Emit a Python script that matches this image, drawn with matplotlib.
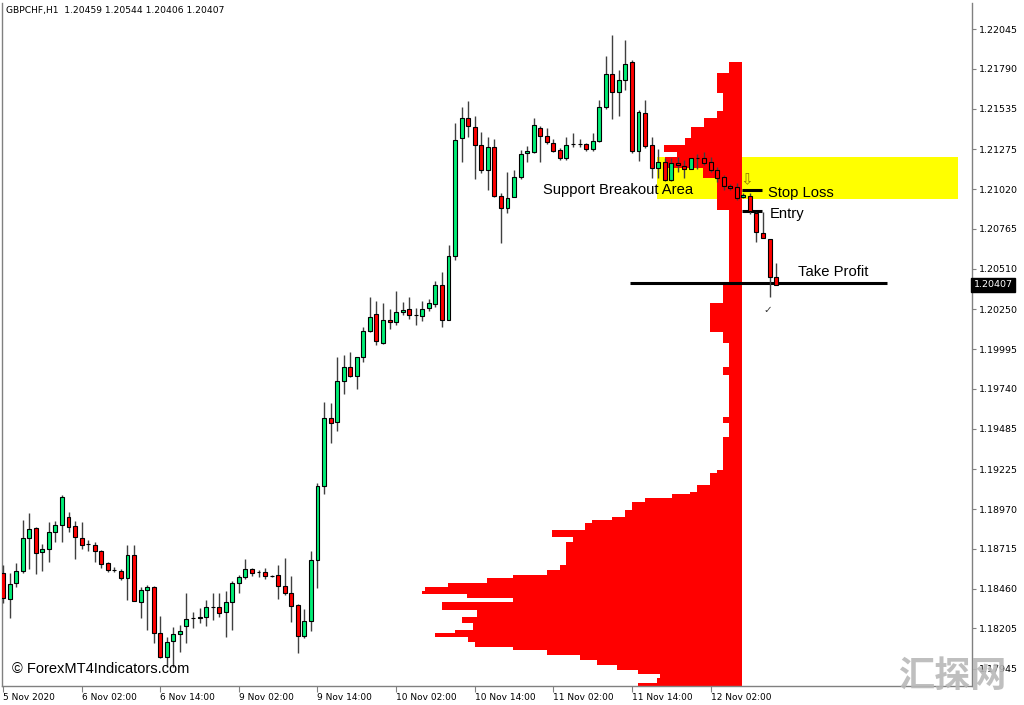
import matplotlib
matplotlib.use('Agg')
import matplotlib.pyplot as plt
import matplotlib.transforms as mtrans
from matplotlib.patches import Rectangle

# GBPCHF H1 candles, 5 Nov 14:00 .. 12 Nov 12:00
opens = [1.18560, 1.18394, 1.18496, 1.18573, 1.18785, 1.18849, 1.18695, 1.18714, 1.18823, 1.18868,
         1.18919, 1.18861, 1.18785, 1.18746, 1.18740, 1.18701, 1.18624, 1.18580, 1.18573, 1.18528,
         1.18676, 1.18375, 1.18452, 1.18471, 1.18176, 1.18022, 1.18125, 1.18170, 1.18221, 1.18272,
         1.18272, 1.18279, 1.18343, 1.18343, 1.18311, 1.18375, 1.18496, 1.18535, 1.18586, 1.18567,
         1.18567, 1.18541, 1.18548, 1.18477, 1.18432, 1.18355, 1.18157, 1.18253, 1.18644, 1.19118,
         1.19553, 1.19528, 1.19790, 1.19880, 1.19822, 1.19944, 1.20111, 1.20220, 1.20034, 1.20181,
         1.20168, 1.20232, 1.20252, 1.20213, 1.20207, 1.20258, 1.20284, 1.20405, 1.20181, 1.20591,
         1.21347, 1.21475, 1.21417, 1.21302, 1.21142, 1.21289, 1.20975, 1.20899, 1.20969, 1.21097,
         1.21251, 1.21257, 1.21411, 1.21360, 1.21315, 1.21270, 1.21219, 1.21309, 1.21309, 1.21309,
         1.21276, 1.21328, 1.21546, 1.21757, 1.21642, 1.21719, 1.21834, 1.21264, 1.21507, 1.21302,
         1.21155, 1.21193, 1.21078, 1.21187, 1.21168, 1.21148, 1.21216, 1.21219, 1.21193, 1.21142,
         1.21097, 1.21040, 1.21033, 1.20969, 1.20975, 1.20867, 1.20738, 1.20700, 1.20459]
highs = [1.18612, 1.18560, 1.18624, 1.18900, 1.18945, 1.18855, 1.18746, 1.18887, 1.18894, 1.19060,
         1.18951, 1.18894, 1.18887, 1.18772, 1.18759, 1.18708, 1.18631, 1.18599, 1.18586, 1.18740,
         1.18740, 1.18471, 1.18484, 1.18474, 1.18285, 1.18150, 1.18214, 1.18227, 1.18432, 1.18311,
         1.18336, 1.18387, 1.18432, 1.18432, 1.18445, 1.18509, 1.18548, 1.18650, 1.18592, 1.18580,
         1.18592, 1.18548, 1.18612, 1.18656, 1.18541, 1.18362, 1.18330, 1.18701, 1.19137, 1.19656,
         1.19649, 1.19944, 1.19957, 1.19976, 1.19946, 1.20136, 1.20328, 1.20303, 1.20290, 1.20252,
         1.20367, 1.20296, 1.20328, 1.20258, 1.20303, 1.20316, 1.20431, 1.20489, 1.20662, 1.21443,
         1.21546, 1.21584, 1.21488, 1.21385, 1.21353, 1.21341, 1.20995, 1.21129, 1.21142, 1.21270,
         1.21296, 1.21475, 1.21424, 1.21411, 1.21341, 1.21283, 1.21353, 1.21379, 1.21341, 1.21315,
         1.21379, 1.21590, 1.21872, 1.22007, 1.21783, 1.21975, 1.21847, 1.21526, 1.21590, 1.21353,
         1.21276, 1.21219, 1.21219, 1.21225, 1.21206, 1.21221, 1.21245, 1.21257, 1.21225, 1.21161,
         1.21110, 1.21052, 1.21059, 1.20995, 1.20995, 1.20873, 1.20873, 1.20703, 1.20544]
lows = [1.18368, 1.18272, 1.18471, 1.18560, 1.18586, 1.18554, 1.18573, 1.18631, 1.18759, 1.18759,
        1.18823, 1.18650, 1.18714, 1.18701, 1.18631, 1.18592, 1.18567, 1.18567, 1.18516, 1.18387,
        1.18378, 1.18272, 1.18195, 1.18112, 1.18016, 1.17958, 1.17958, 1.18054, 1.18112, 1.18208,
        1.18240, 1.18221, 1.18259, 1.18279, 1.18150, 1.18195, 1.18432, 1.18522, 1.18541, 1.18535,
        1.18522, 1.18535, 1.18394, 1.18419, 1.18246, 1.18048, 1.18144, 1.18189, 1.18464, 1.19066,
        1.19393, 1.19470, 1.19707, 1.19816, 1.19739, 1.19912, 1.20104, 1.20021, 1.20027, 1.20123,
        1.20149, 1.20213, 1.20187, 1.20149, 1.20175, 1.20239, 1.20264, 1.20136, 1.20178, 1.20565,
        1.21193, 1.21353, 1.21084, 1.21123, 1.21014, 1.20972, 1.20674, 1.20867, 1.20966, 1.21084,
        1.21193, 1.21251, 1.21193, 1.21309, 1.21257, 1.21206, 1.21206, 1.21289, 1.21289, 1.21264,
        1.21264, 1.21321, 1.21533, 1.21469, 1.21488, 1.21655, 1.21251, 1.21200, 1.21283, 1.21091,
        1.21091, 1.21072, 1.21072, 1.21129, 1.21091, 1.21146, 1.21148, 1.21174, 1.21129, 1.21065,
        1.21014, 1.21014, 1.20950, 1.20963, 1.20860, 1.20681, 1.20704, 1.20328, 1.20406]
closes = [1.18400, 1.18490, 1.18573, 1.18785, 1.18842, 1.18689, 1.18714, 1.18823, 1.18868, 1.19047,
          1.18855, 1.18791, 1.18740, 1.18743, 1.18701, 1.18618, 1.18580, 1.18577, 1.18528, 1.18676,
          1.18381, 1.18452, 1.18471, 1.18176, 1.18022, 1.18118, 1.18170, 1.18189, 1.18266, 1.18270,
          1.18279, 1.18343, 1.18340, 1.18304, 1.18375, 1.18496, 1.18535, 1.18586, 1.18560, 1.18565,
          1.18541, 1.18539, 1.18477, 1.18432, 1.18349, 1.18157, 1.18253, 1.18644, 1.19118, 1.19553,
          1.19521, 1.19790, 1.19880, 1.19822, 1.19944, 1.20111, 1.20200, 1.20047, 1.20181, 1.20168,
          1.20232, 1.20245, 1.20213, 1.20211, 1.20252, 1.20290, 1.20405, 1.20181, 1.20591, 1.21334,
          1.21475, 1.21424, 1.21302, 1.21142, 1.21289, 1.20975, 1.20899, 1.20963, 1.21097, 1.21245,
          1.21264, 1.21430, 1.21360, 1.21321, 1.21264, 1.21219, 1.21302, 1.21307, 1.21307, 1.21276,
          1.21328, 1.21546, 1.21757, 1.21642, 1.21719, 1.21821, 1.21264, 1.21514, 1.21296, 1.21155,
          1.21193, 1.21078, 1.21187, 1.21174, 1.21148, 1.21219, 1.21219, 1.21187, 1.21142, 1.21091,
          1.21040, 1.21027, 1.20963, 1.20982, 1.20879, 1.20745, 1.20706, 1.20457, 1.20407]

time_labels = ['5 Nov 2020', '6 Nov 02:00', '6 Nov 14:00', '9 Nov 02:00', '9 Nov 14:00',
               '10 Nov 02:00', '10 Nov 14:00', '11 Nov 02:00', '11 Nov 14:00', '12 Nov 02:00']
time_label_bars = [0, 12, 24, 36, 48, 60, 72, 84, 96, 108]

price_ticks = [1.22045, 1.21790, 1.21535, 1.21275, 1.21020, 1.20765, 1.20510, 1.20250, 1.19995,
               1.19740, 1.19485, 1.19225, 1.18970, 1.18715, 1.18460, 1.18205, 1.17945]

# volume profile: price band edges (top to bottom) and volume per band
profile_edges = [1.21834, 1.21763, 1.21635, 1.21520, 1.21475, 1.21417, 1.21347, 1.21302, 1.21257,
                 1.21225, 1.21155, 1.21091, 1.20886, 1.20405, 1.20290, 1.20104, 1.20034, 1.19880,
                 1.19829, 1.19560, 1.19521, 1.19432, 1.19220, 1.19201, 1.19124, 1.19079, 1.19066,
                 1.19041, 1.19015, 1.18964, 1.18919, 1.18900, 1.18881, 1.18836, 1.18791, 1.18759,
                 1.18612, 1.18580, 1.18548, 1.18528, 1.18496, 1.18471, 1.18445, 1.18426, 1.18400,
                 1.18375, 1.18323, 1.18279, 1.18240, 1.18195, 1.18176, 1.18150, 1.18118, 1.18086,
                 1.18067, 1.18035, 1.18003, 1.17971, 1.17939, 1.17913, 1.17888, 1.17856, 1.17836]
profile_vol = [13, 25, 19, 25, 38, 51, 57, 78, 65, 77,
               39, 25, 13, 19, 32, 19, 13, 19, 13, 19,
               13, 19, 25, 32, 45, 52, 70, 97, 110, 117,
               130, 150, 157, 190, 169, 176, 182, 195, 229, 255,
               294, 317, 320, 275, 229, 300, 265, 280, 269, 287,
               307, 274, 267, 229, 195, 162, 145, 125, 104, 82,
               85, 104]
PROFILE_ANCHOR = 112.8     # bar where the profile is anchored (right edge)
VOL_PER_BAR = 6.55         # volume units per bar width

# breakout zone and trade levels
zone_top, zone_bottom = 1.21228, 1.20956
zone_start, zone_end = 99.8, 145.8
stop_loss = 1.21014
entry = 1.20879
take_profit = 1.20418
last_price = closes[-1]

BULL = '#00EE76'
BEAR = '#FF0000'
WICK = '#404040'
ANNOT_FONT = 'Liberation Sans'

fig = plt.figure(figsize=(10.24, 7.05), dpi=100)
ax = fig.add_axes([2 / 1024, 19 / 705, 970 / 1024, 683 / 705])
ax.set_xlim(-0.15, 147.9)
ax.set_ylim(1.17836, 1.22212)

# yellow zone
ax.add_patch(Rectangle((zone_start, zone_bottom), zone_end - zone_start, zone_top - zone_bottom,
                       facecolor='#FFFF00', edgecolor='none', zorder=1))

# volume profile
for i, v in enumerate(profile_vol):
    top, bot = profile_edges[i], profile_edges[i + 1]
    w = v / VOL_PER_BAR
    ax.barh(bot, w, height=top - bot, left=PROFILE_ANCHOR - w, align='edge',
            color=BEAR, linewidth=0, zorder=2)

# level lines
ax.hlines(stop_loss, 112.8, 115.9, color='black', lw=2.2, zorder=3)
ax.hlines(entry, 112.8, 115.9, color='black', lw=2.2, zorder=3)
ax.hlines(take_profit, 95.7, 135.0, color='black', lw=2.2, zorder=3)

# candles
for i in range(len(opens)):
    o, h, l, c = opens[i], highs[i], lows[i], closes[i]
    ax.vlines(i, l, h, color=WICK, lw=1.0, zorder=4)
    col = BULL if c > o else BEAR
    body = max(abs(c - o), 0.00002)
    ax.add_patch(Rectangle((i - 0.3, min(o, c)), 0.6, body, facecolor=col,
                           edgecolor='black', lw=0.8, zorder=5))

# annotations
ax.text(82.4, 1.21014, 'Support Breakout Area', fontsize=10.6, family=ANNOT_FONT,
        va='center', ha='left', zorder=6)
ax.text(116.8, 1.20995, 'Stop Loss', fontsize=10.6, family=ANNOT_FONT, va='center', zorder=6)
ax.text(117.1, 1.20860, 'Entry', fontsize=10.6, family=ANNOT_FONT, va='center', zorder=6)
ax.text(121.4, 1.20489, 'Take Profit', fontsize=10.6, family=ANNOT_FONT, va='center', zorder=6)
ax.text(113.6, 1.21078, '\u21e9', fontsize=11, family='DejaVu Sans', color='#8C7A00',
        ha='center', va='center', zorder=6)
ax.text(116.8, 1.20245, '\u2713', fontsize=7.5, color='#333333', ha='center', va='center', zorder=6)

# axes styling
ax.spines['top'].set_visible(False)
for s in ['left', 'right', 'bottom']:
    ax.spines[s].set_color('#808080')
    ax.spines[s].set_linewidth(1.0)
ax.yaxis.tick_right()
ax.set_yticks(price_ticks)
ax.set_yticklabels(['%.5f' % p for p in price_ticks])
ax.tick_params(axis='y', direction='out', length=3, width=0.8, color='#808080',
               labelsize=6.8, pad=2)
ax.set_xticks(time_label_bars)
ax.set_xticklabels(time_labels)
ax.tick_params(axis='x', direction='out', length=4, width=0.8, color='#808080',
               labelsize=6.5, pad=1)
for lbl in ax.get_xticklabels():
    lbl.set_horizontalalignment('left')

# current price tag
tr = mtrans.blended_transform_factory(ax.transAxes, ax.transData)
ax.text(1.0015, last_price, '%.5f' % last_price, transform=tr, fontsize=6.8, color='white',
        va='center', ha='left',
        bbox=dict(boxstyle='square,pad=0.25', facecolor='black', edgecolor='black'),
        clip_on=False, zorder=7)

fig.text(6 / 1024, 1 - 10 / 705, 'GBPCHF,H1  1.20459 1.20544 1.20406 1.20407',
         fontsize=6.6, va='center', ha='left')
fig.text(12 / 1024, 1 - 669 / 705, '\u00a9 ForexMT4Indicators.com', fontsize=10.5,
         family=ANNOT_FONT, va='center', ha='left')
fig.text(952 / 1024, 1 - 676 / 705, '汇探网', fontsize=26, fontweight='bold',
         family=['Noto Sans CJK SC', 'DejaVu Sans'], color='#B8B8B8', alpha=0.9,
         ha='center', va='center', zorder=10)

fig.savefig('out.png', dpi=100)
